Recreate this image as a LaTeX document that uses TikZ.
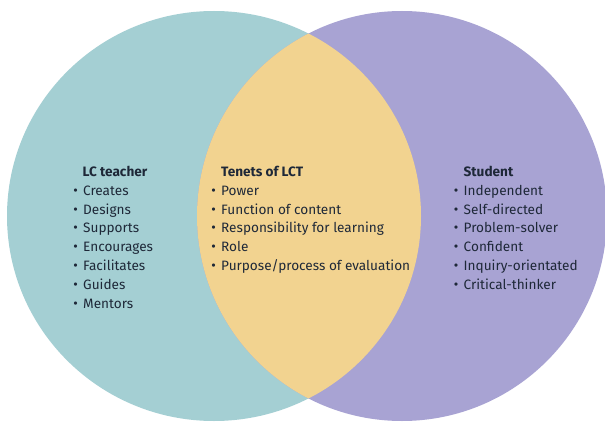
\documentclass[tikz,border=0pt]{standalone}
\usepackage{fontspec}
\setmainfont{Fira Sans}
\definecolor{cteal}{HTML}{A4CFD3}
\definecolor{cpurple}{HTML}{A8A3D3}
\definecolor{cyellow}{HTML}{F2D390}
\definecolor{ctext}{HTML}{1E2838}
\tikzset{
  txt/.style={anchor=base west, inner sep=0pt, text=ctext, font=\fontsize{13.6}{15}\selectfont},
  head/.style={txt, font=\fontsize{13.6}{15}\selectfont\bfseries},
  bullet/.style={txt, font=\fontsize{11.5}{15}\selectfont\bfseries},
}
\begin{document}
\begin{tikzpicture}[x=1pt,y=-1pt]
\useasboundingbox (0,0) rectangle (605,425);
\fill[white] (0,0) rectangle (605,425);
\fill[cteal] (214,216) ellipse [x radius=207, y radius=205];
\fill[cpurple] (402,216) ellipse [x radius=205, y radius=205];
\begin{scope}
  \clip (214,216) ellipse [x radius=207, y radius=205];
  \fill[cyellow] (402,216) ellipse [x radius=205, y radius=205];
\end{scope}
% left list
\node[head] (lh) at (82.5,176.5) {LC teacher};
\foreach \t [count=\i] in {Creates,Designs,Supports,Encourages,Facilitates,Guides,Mentors}{
  \node[bullet] (lb\i) at (73.5,175.5+18.8*\i) {•};
  \node[txt] (l\i) at (83,176.5+18.8*\i) {\t};}
% center list
\node[head] (ch) at (221,176.5) {Tenets of LCT};
\foreach \t [count=\i] in {Power,Function of content,Responsibility for learning,Role,Purpose/process of evaluation}{
  \node[bullet] (cb\i) at (211.5,175.5+18.8*\i) {•};
  \node[txt] (c\i) at (221,176.5+18.8*\i) {\t};}
% right list
\node[head] (rh) at (463.5,176.5) {Student};
\foreach \t [count=\i] in {Independent,Self-directed,Problem-solver,Confident,Inquiry-orientated,Critical-thinker}{
  \node[bullet] (rb\i) at (454,175.5+18.8*\i) {•};
  \node[txt] (r\i) at (463.5,176.5+18.8*\i) {\t};}
\end{tikzpicture}
\end{document}
